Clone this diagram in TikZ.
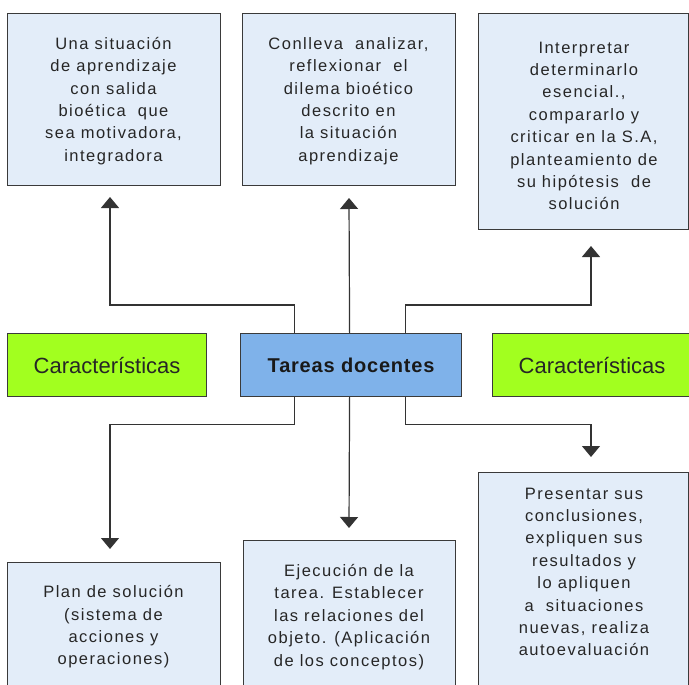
\documentclass[tikz,border=0pt]{standalone}
\usepackage{fontspec}
\setmainfont{Liberation Sans}
\newfontfamily\boxfont{Liberation Sans}[LetterSpace=9]
\newfontfamily\tarfont{Liberation Sans}[LetterSpace=4]
\usetikzlibrary{arrows.meta}
\definecolor{boxfill}{HTML}{E3EDF9}
\definecolor{boxline}{HTML}{3A3A3A}
\definecolor{tarfill}{HTML}{7FB2EA}
\definecolor{grnfill}{HTML}{A2FF1F}
\definecolor{lnk}{HTML}{333333}
\tikzset{
  infobox/.style={draw=boxline, fill=boxfill, line width=1.2pt, inner sep=0pt, anchor=north west},
  infotext/.style={align=center, inner sep=0pt, font=\boxfont\fontsize{16.5}{22.4}\selectfont, text=black!85},
  grnbox/.style={draw=boxline, fill=grnfill, line width=1.2pt, inner sep=0pt, anchor=north west,
     font=\fontsize{22}{26}\selectfont, text=black!85},
  tarbox/.style={draw=boxline, fill=tarfill, line width=1.2pt, inner sep=0pt, anchor=north west,
     font=\tarfont\bfseries\fontsize{20}{24}\selectfont, text=black!90},
  link/.style={draw=lnk, line width=1.2pt, -{Triangle[width=18pt,length=11pt]}}
}
\begin{document}
\begin{tikzpicture}[x=1pt,y=-1pt]
\useasboundingbox (0,0) rectangle (689,685);
\clip (0,0) rectangle (689,685);
% top boxes
\node[infobox, minimum width=213pt, minimum height=172pt] (b1) at (7,13) {};
\node[infotext] (t1) at (113.5,101) {Una situación\\de aprendizaje\\con salida\\bioética \ que\\sea motivadora,\\integradora};
\node[infobox, minimum width=213pt, minimum height=172pt] (b2) at (242,13) {};
\node[infotext] (t2) at (348.5,101) {Conlleva \ analizar,\\reflexionar \ el\\dilema bioético\\descrito en\\la situación\\aprendizaje};
\node[infobox, minimum width=210pt, minimum height=216pt] (b3) at (478,13) {};
\node[infotext] (t3) at (584,126) {Interpretar\\determinarlo\\esencial.,\\compararlo y\\criticar en la S.A,\\planteamiento de\\su hipótesis \ de\\solución};
% middle row
\node[grnbox, minimum width=199pt, minimum height=63pt] (g1) at (7,333) {Características};
\node[tarbox, minimum width=221pt, minimum height=63pt] (tar) at (240,333) {Tareas docentes};
\node[grnbox, minimum width=199pt, minimum height=63pt] (g2) at (492,333) {\hspace*{1pt}Características\hspace*{1pt}};
% bottom boxes
\node[infobox, minimum width=213pt, minimum height=140pt] (b4) at (7,562) {};
\node[infotext] (t4) at (113.5,627) {Plan de solución\\(sistema de\\acciones y\\operaciones)};
\node[infobox, minimum width=212pt, minimum height=160pt] (b5) at (243,540) {};
\node[infotext] (t5) at (349,617) {Ejecución de la\\tarea. Establecer\\las relaciones del\\objeto. (Aplicación\\de los conceptos)};
\node[infobox, minimum width=210pt, minimum height=230pt] (b6) at (478,472) {};
\node[infotext] (t6) at (584,572) {Presentar sus\\conclusiones,\\expliquen sus\\resultados y\\lo apliquen\\a \ situaciones\\nuevas, realiza\\autoevaluación};
% connector ends
\coordinate (a1) at (110,197);
\coordinate (a2) at (349,198);
\coordinate (a3) at (591,246);
\coordinate (a4) at (110,549);
\coordinate (a5) at (349,528);
\coordinate (a6) at (591,457);
\draw[link] ([xshift=-56.5pt]tar.north) -- ++(0,-28) -| (a1);
\draw[link] ([xshift=-1.5pt]tar.north) -- (a2);
\draw[link] ([xshift=54.5pt]tar.north) -- ++(0,-28) -| (a3);
\draw[link] ([xshift=-56.5pt]tar.south) -- ++(0,27) -| (a4);
\draw[link] ([xshift=-1.5pt]tar.south) -- (a5);
\draw[link] ([xshift=54.5pt]tar.south) -- ++(0,27) -| (a6);
\end{tikzpicture}
\end{document}
